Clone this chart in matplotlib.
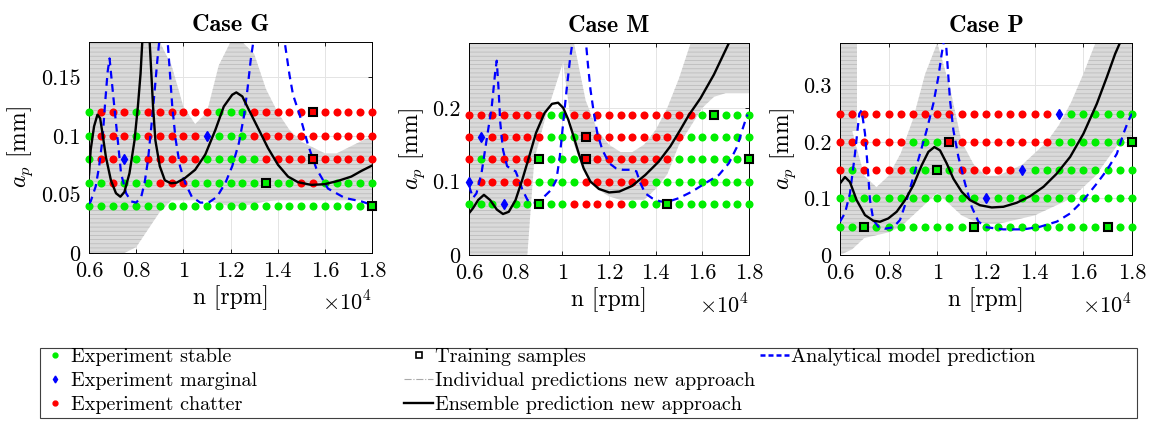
import numpy as np
import matplotlib
matplotlib.use('Agg')
import matplotlib.pyplot as plt
from matplotlib.lines import Line2D
from matplotlib.patches import Rectangle
from matplotlib.ticker import FuncFormatter, MultipleLocator

plt.rcParams['font.family'] = 'serif'
plt.rcParams['font.serif'] = ['cmr10']
plt.rcParams['mathtext.fontset'] = 'cm'
plt.rcParams['axes.formatter.use_mathtext'] = True
plt.rcParams['hatch.linewidth'] = 0.6

# spindle speeds of the experiment grid [rpm]
N_RPM = [6000, 6500, 7000, 7500, 8000, 8500, 9000, 9500, 10000, 10500, 11000, 11500, 12000,
         12500, 13000, 13500, 14000, 14500, 15000, 15500, 16000, 16500, 17000, 17500, 18000]

# experiment outcome per depth of cut: s = stable, m = marginal, c = chatter
G_AP = [0.04, 0.06, 0.08, 0.10, 0.12]
G_STATUS = ['sssssssssssssssssssssssss',
            'sscssscccsssssssssccsssss',
            'sccmscccccsssssccccccccccc'[:25],
            'scccsccccc' + 'msss' + 'ccccccccccc',
            'scccscccccc' + 'sss' + 'ccccccccccc']
M_AP = [0.07, 0.10, 0.13, 0.16, 0.19]
M_STATUS = ['sssmssssscccccsssssssssss',
            'mcccccssssccccccsssssssss',
            'cscccc' + 'ssss' + 'cccccccc' + 'sssssss',
            'cmccccc' + 'sss' + 'ccccccccc' + 'ssssss',
            'ccccccc' + 'ss' + 'ccccccccccc' + 'sssss']
P_AP = [0.05, 0.10, 0.15, 0.20, 0.25]
P_STATUS = ['sssssssssssssssssssssssss',
            'ssssssssssssmssssssssssss',
            'csccccssssccccc' + 'm' + 'sssssssss',
            'cccccc' + 'sss' + 'ccccccccc' + 'sssssss',
            'cccccccccccccccccc' + 'm' + 'ssssss']

# training samples (n, ap, class)
G_TRAIN = [(15500, 0.12, 'c'), (15500, 0.08, 'c'), (13500, 0.06, 's'), (18000, 0.04, 's')]
M_TRAIN = [(16500, 0.19, 's'), (11000, 0.16, 'c'), (9000, 0.13, 's'), (11000, 0.13, 'c'),
           (18000, 0.13, 's'), (9000, 0.07, 's'), (14500, 0.07, 's')]
P_TRAIN = [(10500, 0.20, 'c'), (18000, 0.20, 's'), (10000, 0.15, 's'), (7000, 0.05, 's'),
           (11500, 0.05, 's'), (17000, 0.05, 's')]

# ensemble prediction new approach
G_ENS_N = [6000, 6071, 6214, 6357, 6472, 6572, 6715, 6929, 7143, 7329, 7500, 7715, 7929, 8072,
           8186, 8258, 8320, 8420, 8510, 8572, 8643, 8715, 8815, 9001, 9215, 9472, 9715, 10072,
           10500, 10930, 11358, 11715, 12072, 12245, 12500, 12742, 13166, 13590, 14014, 14438,
           14862, 15426, 15990, 16557, 17122, 17546, 18000]
G_ENS_AP = [0.067, 0.088, 0.108, 0.118, 0.115, 0.102, 0.082, 0.062, 0.051, 0.048, 0.052, 0.068,
            0.096, 0.125, 0.153, 0.18, 0.20, 0.21, 0.20, 0.18, 0.153, 0.125, 0.096, 0.074, 0.062,
            0.0595, 0.060, 0.064, 0.071, 0.084, 0.105, 0.125, 0.135, 0.137, 0.1336, 0.1236,
            0.1066, 0.0895, 0.0752, 0.0652, 0.0604, 0.0581, 0.0587, 0.0615, 0.0652, 0.070, 0.0746]
M_ENS_N = [6000, 6175, 6394, 6641, 6904, 7196, 7458, 7706, 7997, 8289, 8581, 8872, 9237, 9557,
           9820, 10039, 10257, 10476, 10695, 10914, 11206, 11570, 12007, 12444, 12985, 13557,
           14129, 14632, 15062, 15419, 15920, 16494, 17140, 17400]
M_ENS_AP = [0.057, 0.064, 0.075, 0.082, 0.075, 0.062, 0.056, 0.059, 0.075, 0.103, 0.134, 0.166,
            0.193, 0.2055, 0.207, 0.200, 0.184, 0.162, 0.139, 0.118, 0.100, 0.090, 0.0853, 0.0865,
            0.094, 0.109, 0.127, 0.148, 0.1705, 0.19, 0.213, 0.245, 0.288, 0.30]
P_ENS_N = [6000, 6206, 6411, 6686, 7028, 7371, 7645, 7988, 8331, 8674, 9016, 9359, 9633, 9880,
           10113, 10387, 10661, 11004, 11347, 11758, 12238, 12718, 13266, 13815, 14363, 14911,
           15460, 16008, 16557, 16968, 17311, 17489, 17600]
P_ENS_AP = [0.1265, 0.138, 0.129, 0.097, 0.0706, 0.0606, 0.0588, 0.0647, 0.0765, 0.097, 0.1235,
            0.1588, 0.1824, 0.191, 0.185, 0.162, 0.135, 0.1118, 0.097, 0.088, 0.0841, 0.0853,
            0.0924, 0.104, 0.1206, 0.144, 0.1735, 0.2147, 0.2676, 0.3147, 0.356, 0.3735, 0.385]

# analytical model prediction (NaN separates lobes)
G_ANA_N = [6000, 6071, 6286, 6429, 6572, 6672, 6786, 6872, 6929, 7072, 7215, 7358, 7572, 7786,
           8000, 8215, 8358, 8500, 8643, 8786, 8900, 8986, 9050, np.nan,
           9280, 9329, 9429, 9530, 9672, 9858, 10072, 10358, 10715, 11072, 11430, 11787, 12072,
           12358, 12572, 12715, 12858, 12958, 13010, np.nan,
           14250, 14297, 14500, 14650, 14930, 15290, 15640, 16130, 16840, 17550, 18000]
G_ANA_AP = [0.042, 0.044, 0.057, 0.074, 0.097, 0.125, 0.154, 0.166, 0.154, 0.125, 0.097, 0.068,
            0.051, 0.044, 0.043, 0.048, 0.060, 0.079, 0.108, 0.139, 0.165, 0.182, 0.20, np.nan,
            0.20, 0.182, 0.154, 0.125, 0.097, 0.074, 0.060, 0.048, 0.043, 0.043, 0.048, 0.060,
            0.074, 0.094, 0.117, 0.139, 0.165, 0.179, 0.20, np.nan,
            0.20, 0.18, 0.152, 0.135, 0.118, 0.092, 0.072, 0.055, 0.047, 0.044, 0.041]
M_ANA_N = [6000, 6175, 6321, 6540, 6758, 6977, 7123, 7190, 7269, 7341, 7458, 7633, 7852, 7997,
           8143, 8289, 8508, 8727, 8974, 9237, 9529, 9747, 9893, 10039, 10185, 10330, 10432,
           10480, np.nan,
           10980, 11015, 11103, 11206, 11351, 11497, 11716, 12007, 12299, 12590, 12882, 13173,
           13342, 13557, 13844, 14202, 14560, 14990, 15565, 16137, 16710, 17140, 17500, 17716,
           17931]
M_ANA_AP = [0.094, 0.078, 0.084, 0.112, 0.157, 0.202, 0.248, 0.264, 0.225, 0.18, 0.143, 0.121,
            0.116, 0.114, 0.1025, 0.089, 0.075, 0.071, 0.0717, 0.080, 0.089, 0.1025, 0.134, 0.18,
            0.225, 0.266, 0.288, 0.30, np.nan,
            0.30, 0.288, 0.257, 0.225, 0.193, 0.166, 0.143, 0.125, 0.118, 0.116, 0.116, 0.114,
            0.098, 0.084, 0.0775, 0.073, 0.073, 0.0775, 0.0865, 0.098, 0.109, 0.125, 0.148,
            0.1705, 0.191]
P_ANA_N = [6000, 6206, 6411, 6617, 6795, 6891, 7028, 7138, 7234, 7371, 7577, 7851, 8194, 8468,
           8742, 9016, 9290, 9565, 9839, 10044, 10182, 10250, 10280, np.nan,
           10330, 10360, 10428, 10524, 10661, 10867, 11141, 11415, 11690, 12032, 12718, 13541,
           14226, 14911, 15460, 16008, 16557, 16968, 17379, 17653, 17859, 18000]
P_ANA_AP = [0.059, 0.074, 0.109, 0.179, 0.25, 0.256, 0.215, 0.156, 0.097, 0.062, 0.050, 0.0465,
            0.049, 0.062, 0.097, 0.138, 0.179, 0.221, 0.268, 0.315, 0.356, 0.3735, 0.39, np.nan,
            0.39, 0.3735, 0.332, 0.2735, 0.221, 0.1735, 0.1265, 0.085, 0.059, 0.049, 0.0453,
            0.0453, 0.050, 0.059, 0.0735, 0.097, 0.1265, 0.150, 0.179, 0.215, 0.238, 0.25]

# spread of the individual predictions (lower / upper envelope of the grey cloud)
G_CLOUD_N = [6000, 6500, 7000, 7500, 8000, 8500, 9000, 9500, 10000, 10500, 11000, 11500, 12000,
             12500, 13000, 13500, 14000, 14500, 15000, 15500, 16000, 16500, 17000, 17500, 18000]
G_CLOUD_LO = [0, 0, 0, 0, 0.005, 0.02, 0.035, 0.045, 0.045, 0.045, 0.045, 0.042, 0.040, 0.040,
              0.042, 0.044, 0.045, 0.045, 0.045, 0.045, 0.045, 0.045, 0.045, 0.045, 0.045]
G_CLOUD_HI = [0.18, 0.18, 0.18, 0.18, 0.18, 0.18, 0.18, 0.16, 0.125, 0.11, 0.12, 0.16, 0.18,
              0.18, 0.17, 0.14, 0.12, 0.105, 0.095, 0.09, 0.085, 0.085, 0.09, 0.095, 0.10]
M_CLOUD1_N = [6000, 7000, 8000, 8500, 8800, 9300, 10300]
M_CLOUD1_LO = [0, 0, 0, 0, 0.13, 0.19, 0.288]
M_CLOUD1_HI = [0.288, 0.288, 0.288, 0.288, 0.288, 0.288, 0.288]
M_CLOUD2_N = [10000, 10500, 11000, 11500, 12000, 12500, 13000, 13500, 14000, 14500, 15000, 15500,
              16000, 16500, 17000, 17500, 18000]
M_CLOUD2_LO = [0.27, 0.15, 0.11, 0.09, 0.08, 0.075, 0.075, 0.075, 0.09, 0.11, 0.15, 0.175,
               0.20, 0.215, 0.22, 0.22, 0.22]
M_CLOUD2_HI = [0.288, 0.288, 0.21, 0.17, 0.15, 0.14, 0.14, 0.15, 0.17, 0.20, 0.24, 0.288,
               0.288, 0.288, 0.288, 0.288, 0.288]
P_CLOUD_N = G_CLOUD_N
P_CLOUD_LO = [0, 0.01, 0.03, 0.035, 0.04, 0.05, 0.07, 0.09, 0.11, 0.09, 0.07, 0.06, 0.055, 0.055,
              0.06, 0.065, 0.07, 0.08, 0.09, 0.10, 0.12, 0.14, 0.17, 0.20, 0.21]
P_CLOUD_HI = [0.25, 0.22, 0.14, 0.12, 0.14, 0.18, 0.24, 0.32, 0.375, 0.30, 0.20, 0.16, 0.14, 0.14,
              0.15, 0.16, 0.18, 0.20, 0.23, 0.27, 0.32, 0.375, 0.375, 0.375, 0.375]
P_STRIPE_N = [6000, 6700]
P_STRIPE_LO = [0.22, 0.22]
P_STRIPE_HI = [0.375, 0.375]

COLORS = {'s': '#00ee00', 'm': '#0000ff', 'c': '#ff0000'}
GREY = '#bdbdbd'

PANELS = [
    dict(title='Case G', ap=G_AP, status=G_STATUS, train=G_TRAIN, ens=(G_ENS_N, G_ENS_AP),
         ana=(G_ANA_N, G_ANA_AP), cloud=[(G_CLOUD_N, G_CLOUD_LO, G_CLOUD_HI)],
         ylim=0.18, ystep=0.05, pos=[0.0774, 0.4019, 0.2461, 0.4988]),
    dict(title='Case M', ap=M_AP, status=M_STATUS, train=M_TRAIN, ens=(M_ENS_N, M_ENS_AP),
         ana=(M_ANA_N, M_ANA_AP),
         cloud=[(M_CLOUD1_N, M_CLOUD1_LO, M_CLOUD1_HI), (M_CLOUD2_N, M_CLOUD2_LO, M_CLOUD2_HI)],
         ylim=0.288, ystep=0.1, pos=[0.4078, 0.3965, 0.2435, 0.5018]),
    dict(title='Case P', ap=P_AP, status=P_STATUS, train=P_TRAIN, ens=(P_ENS_N, P_ENS_AP),
         ana=(P_ANA_N, P_ANA_AP),
         cloud=[(P_CLOUD_N, P_CLOUD_LO, P_CLOUD_HI), (P_STRIPE_N, P_STRIPE_LO, P_STRIPE_HI)],
         ylim=0.375, ystep=0.1, pos=[0.7304, 0.3972, 0.2539, 0.5011]),
]

fig = plt.figure(figsize=(11.5, 4.23), dpi=100)

for p in PANELS:
    ax = fig.add_axes(p['pos'])
    ax.set_xlim(6000, 18000)
    ax.set_ylim(0, p['ylim'])

    for n, lo, hi in p['cloud']:
        ax.fill_between(n, lo, hi, facecolor='#dadada', edgecolor=GREY, hatch='----',
                        linewidth=0, zorder=1)

    # experiment points
    for ap, row in zip(p['ap'], p['status']):
        for n, st in zip(N_RPM, row):
            if st == 'm':
                ax.plot(n, ap, 'd', color=COLORS['m'], markersize=5, clip_on=False, zorder=3)
            else:
                ax.plot(n, ap, 'o', color=COLORS[st], markersize=5.8, markeredgewidth=0,
                        clip_on=False, zorder=3)

    ax.plot(p['ana'][0], p['ana'][1], color='#0000ff', linestyle=(0, (3.5, 2.5)), linewidth=1.6,
            zorder=4)
    ax.plot(p['ens'][0], p['ens'][1], color='black', linewidth=1.7, zorder=5)

    for n, ap, st in p['train']:
        ax.plot(n, ap, 's', markerfacecolor=COLORS[st], markeredgecolor='black',
                markeredgewidth=1.5, markersize=6.3, clip_on=False, zorder=6)

    ax.set_title(p['title'], fontfamily='cmb10', fontsize=17.5, pad=8)
    ax.set_xlabel('n [rpm]', fontsize=17, labelpad=3)
    ax.set_ylabel('$a_p$ [mm]', fontsize=17, labelpad=4)
    ax.xaxis.set_major_locator(MultipleLocator(2000))
    ax.xaxis.set_major_formatter(FuncFormatter(lambda v, pos: f'{v / 1e4:g}'))
    ax.yaxis.set_major_locator(MultipleLocator(p['ystep']))
    ax.yaxis.set_major_formatter(FuncFormatter(lambda v, pos: f'{v:g}'))
    ax.tick_params(direction='in', top=True, right=True, length=3, width=0.6, labelsize=16)
    ax.tick_params(axis='x', pad=6)
    ax.tick_params(axis='y', pad=6)
    ax.grid(True, color='#e4e4e4', linewidth=0.7, zorder=0)
    ax.set_axisbelow(True)
    for s in ax.spines.values():
        s.set_linewidth(0.7)
    ax.text(1.0, -0.18, r'$\times10^4$', transform=ax.transAxes, ha='right', va='top',
            fontsize=16)

# legend: three fixed-width columns inside one box, like the reference
LEG_LABELS = [['Experiment stable', 'Experiment marginal', 'Experiment chatter'],
              ['Training samples', 'Individual predictions new approach',
               'Ensemble prediction new approach'],
              ['Analytical model prediction']]
LEG_HANDLES = [
    [Line2D([], [], marker='o', color=COLORS['s'], linestyle='none', markersize=3.5),
     Line2D([], [], marker='d', color=COLORS['m'], linestyle='none', markersize=3.5),
     Line2D([], [], marker='o', color=COLORS['c'], linestyle='none', markersize=3.5)],
    [Line2D([], [], marker='s', markerfacecolor='white', markeredgecolor='black',
            markeredgewidth=1.2, linestyle='none', markersize=4.5),
     Line2D([], [], color='#aaaaaa', linestyle='-.', linewidth=0.8),
     Line2D([], [], color='black', linewidth=1.7)],
    [Line2D([], [], color='#0000ff', linestyle=(0, (2.0, 1.2)), linewidth=1.8)],
]
col_x = [40, 404, 760]
for x, hs, ls in zip(col_x, LEG_HANDLES, LEG_LABELS):
    fig.legend(hs, ls, loc='upper left', bbox_to_anchor=(x / 1150, 1 - 348 / 423),
               fontsize=14.5, frameon=False, handlelength=1.45, handletextpad=0.1,
               labelspacing=0.3, borderaxespad=0, borderpad=0)
fig.patches.append(Rectangle((40 / 1150, 1 - 418 / 423), 1097 / 1150, 70 / 423,
                             transform=fig.transFigure, fill=False, edgecolor='#404040',
                             linewidth=0.8))

fig.savefig('out.png', dpi=100)
